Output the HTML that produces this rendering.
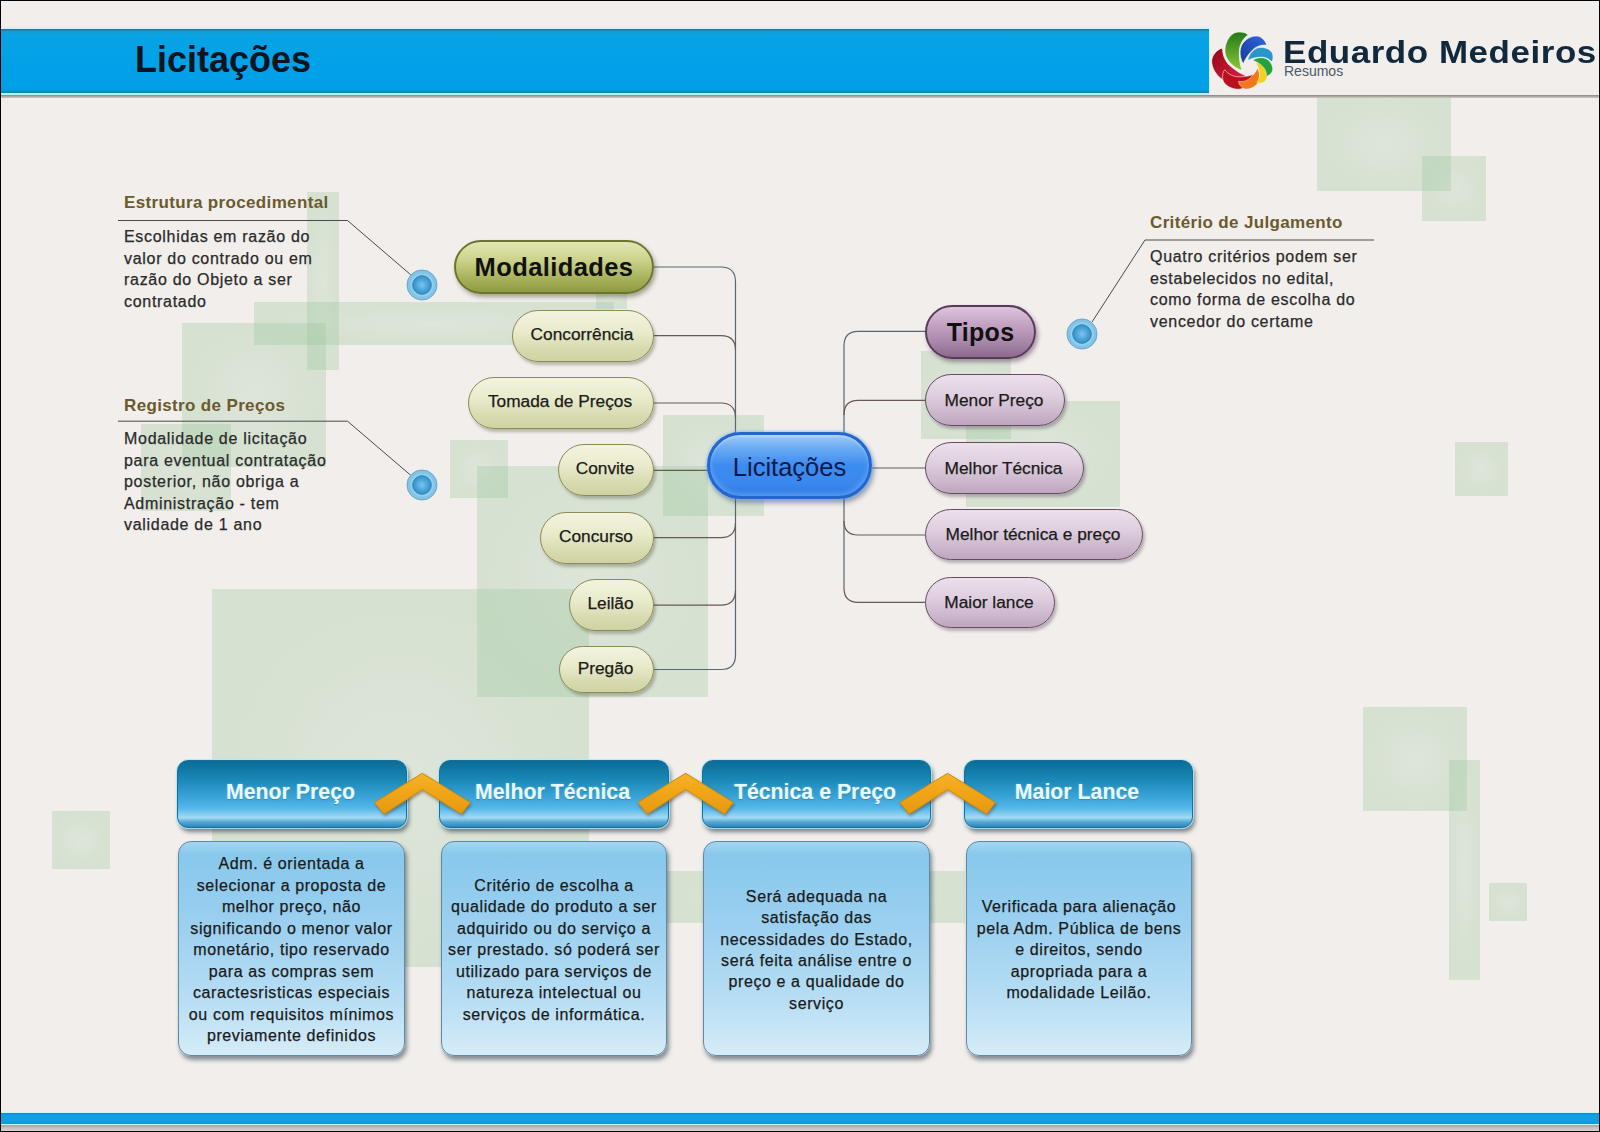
<!DOCTYPE html>
<html><head><meta charset="utf-8">
<style>
*{margin:0;padding:0;box-sizing:border-box}
html,body{width:1600px;height:1132px;overflow:hidden}
body{position:relative;background:#f1eeeb;font-family:"Liberation Sans",sans-serif;color:#222}
.a{position:absolute}
.r{position:absolute;background:radial-gradient(closest-side,rgba(150,195,150,.21),rgba(150,195,150,.3))}
.frame{position:absolute;left:0;top:0;width:1600px;height:1132px;border:1px solid #000;pointer-events:none}
/* pills */
.pill{position:absolute;border-radius:30px;display:flex;align-items:center;justify-content:center;white-space:nowrap}
.mg{padding-right:2px;padding-bottom:3px;background:linear-gradient(#f3f3df 0%,#e9ebcc 40%,#d8dbb0 75%,#cfd2a2 100%);border:1.5px solid #8c8b55;box-shadow:2px 3px 3px rgba(80,80,60,.35);font-size:17.3px;color:#1a1a1a}
.pg{padding-right:2px;background:linear-gradient(#ece0ec 0%,#dfcfdf 40%,#cdb8cd 75%,#bea6be 100%);border:1.5px solid #654b63;box-shadow:2px 3px 3px rgba(80,60,80,.35);font-size:17.3px;color:#1a1a1a}
.bullet{position:absolute;width:32px;height:32px}
.ann-t{position:absolute;font-weight:bold;font-size:17px;letter-spacing:.35px;color:#6b5a2e;white-space:nowrap}
.ann-b{position:absolute;font-size:16px;letter-spacing:.7px;line-height:21.5px;color:#2a2a2a;white-space:nowrap}
.hd{position:absolute;top:760px;height:68px;border-radius:11px;border:1px solid #1c6d98;
 background:linear-gradient(#0a6c96 0%,#1a88b6 28%,#3aa4d8 55%,#58b8ea 72%,#a4daf4 86%,#58aad6 92%,#2a86ba 100%);
 box-shadow:0 0 0 1px rgba(170,235,250,.8),2px 4px 4px rgba(30,45,60,.55);
 color:#e6fbff;font-weight:bold;font-size:21.3px;letter-spacing:0;display:flex;align-items:center;justify-content:center;padding-bottom:3px;padding-right:3px;text-shadow:0 0 2px rgba(180,240,255,.5),0 1px 1px rgba(0,40,80,.35)}
.bx{position:absolute;top:841px;height:215px;border-radius:13px;border:1.5px solid #5d8aa6;
 background:linear-gradient(#a4d6f2 0%,#88c8ec 6%,#9cd0f0 40%,#b8def4 75%,#d6ecf8 100%);
 box-shadow:2px 4px 4px rgba(30,45,60,.5);
 font-size:16px;letter-spacing:.6px;line-height:21.45px;color:#1a1a1a;text-align:center;display:flex;align-items:center;justify-content:center;padding-top:3px}
.bx,.ann-b,.mg,.pg{-webkit-text-stroke:0.25px currentColor}
</style></head>
<body>

<!-- background rectangles -->
<div class="r" style="left:307px;top:192px;width:32px;height:178px"></div>
<div class="r" style="left:254px;top:302px;width:360px;height:43px"></div>
<div class="r" style="left:596px;top:285px;width:31px;height:24px"></div>
<div class="r" style="left:182px;top:323px;width:144px;height:144px"></div>
<div class="r" style="left:141px;top:424px;width:90px;height:87px"></div>
<div class="r" style="left:450px;top:440px;width:58px;height:58px"></div>
<div class="r" style="left:477px;top:466px;width:231px;height:231px"></div>
<div class="r" style="left:663px;top:415px;width:101px;height:101px"></div>
<div class="r" style="left:212px;top:589px;width:377px;height:378px"></div>
<div class="r" style="left:52px;top:811px;width:58px;height:58px"></div>
<div class="r" style="left:667px;top:871px;width:298px;height:52px"></div>
<div class="r" style="left:921px;top:351px;width:90px;height:88px"></div>
<div class="r" style="left:966px;top:401px;width:154px;height:106px"></div>
<div class="r" style="left:1317px;top:96px;width:134px;height:95px"></div>
<div class="r" style="left:1422px;top:156px;width:64px;height:65px"></div>
<div class="r" style="left:1455px;top:442px;width:53px;height:54px"></div>
<div class="r" style="left:1363px;top:707px;width:104px;height:104px"></div>
<div class="r" style="left:1449px;top:760px;width:31px;height:220px"></div>
<div class="r" style="left:1489px;top:883px;width:38px;height:38px"></div>

<!-- header -->
<div class="a" style="left:0;top:27px;width:1210px;height:70px;background:#c8f4fc"></div>
<div class="a" style="left:0;top:95px;width:1600px;height:3px;background:linear-gradient(#8a8680,#cfccc8)"></div>
<div class="a" style="left:1px;top:28px;width:1208px;height:67px;background:linear-gradient(#c6f6ff 0,#c6f6ff 1px,#187aa2 1px,#187aa2 2px,#1a98c8 3px,#0aa3e4 6px,#00a1e8 60%,#00a0e8 62px,#1784b4 64px,#1784b4 65px);border-bottom:2px solid #b8eef8"></div>
<div class="a" style="left:135px;top:39px;font-weight:bold;font-size:36px;color:#0d1420;white-space:nowrap">Licitações</div>

<!-- logo -->
<svg class="a" style="left:0;top:0" width="1600" height="110" viewBox="0 0 1600 110">
<defs>
<path id="pt" d="M-9.3 4.6 C-20 1 -27 -8 -26.5 -16 C-26 -26 -20 -33 -14.6 -33.8 C-9 -34.5 -5 -33 -3.3 -31.1 C-8 -28 -11.5 -22 -12 -16 C-12.5 -8 -11.5 -2 -9.3 4.6 Z"/>
<linearGradient id="gG" x1="0" y1="1" x2="0" y2="0"><stop offset="0" stop-color="#8cc83a"/><stop offset="1" stop-color="#237a12"/></linearGradient>
<linearGradient id="gB" x1="0" y1="1" x2="0" y2="0"><stop offset="0" stop-color="#1a3c9c"/><stop offset="1" stop-color="#2a62d4"/></linearGradient>
<linearGradient id="gR" x1="0" y1="1" x2="0" y2="0"><stop offset="0" stop-color="#e0204a"/><stop offset="1" stop-color="#9c0a18"/></linearGradient>
</defs>
<g transform="translate(1251.4 66)" stroke="#fff" stroke-width="0.8" stroke-opacity=".8">
 <use href="#pt" fill="url(#gR)" transform="rotate(308) scale(1.08)"/>
 <use href="#pt" fill="#b8101c" transform="rotate(268) scale(0.86)"/>
 <use href="#pt" fill="#f07818" transform="rotate(226) scale(0.64)"/>
 <use href="#pt" fill="#f2d020" transform="rotate(168) scale(0.55)"/>
 <use href="#pt" fill="#27a040" transform="rotate(130) scale(0.58)"/>
 <use href="#pt" fill="#2a95c8" transform="rotate(84) scale(0.66)"/>
 <use href="#pt" fill="url(#gB)" transform="rotate(42) scale(0.82)"/>
 <use href="#pt" fill="url(#gG)" transform="rotate(0) scale(1)"/>
</g>
</svg>
<div class="a" style="left:1283px;top:33.5px;font-weight:bold;font-size:32px;color:#12283c;white-space:nowrap;letter-spacing:0.5px;transform:scaleX(1.093);transform-origin:0 0">Eduardo Medeiros</div>
<div class="a" style="left:1284px;top:63px;font-size:14px;color:#4a5a6a;white-space:nowrap">Resumos</div>

<!-- bottom bar -->
<div class="a" style="left:0;top:1112px;width:1600px;height:20px;background:linear-gradient(#c8f6ff 0,#c8f6ff 1px,#1a88bc 1px,#1496d2 2px,#0ea2e4 4px,#0ea0e2 10px,#1890c4 12px,#c8f6ff 12px,#c8f6ff 13px,#a8a49e 13px,#c4c0bb 16px,#d8d5d1 19px)"></div>

<!-- connectors -->
<svg class="a" style="left:0;top:0" width="1600" height="1132" viewBox="0 0 1600 1132">
 <defs><radialGradient id="bg1" cx="50%" cy="50%" r="50%"><stop offset="0" stop-color="#7cc4f2"/><stop offset=".6" stop-color="#4ba4da"/><stop offset="1" stop-color="#3590c6"/></radialGradient></defs>
 <g fill="none" stroke-width="1.2">
  <path d="M654 267 H721 Q735.5 267 735.5 282 V655 Q735.5 669.5 721 669.5 H654" stroke="#56686f"/>
  <path d="M654 335.6 H721 Q735.5 335.6 735.5 350" stroke="#685a52"/>
  <path d="M654 403 H721 Q735.5 403 735.5 418" stroke="#685a52"/>
  <path d="M654 470.4 H735.5" stroke="#685a52"/>
  <path d="M654 537.6 H721 Q735.5 537.6 735.5 523" stroke="#685a52"/>
  <path d="M654 605.2 H721 Q735.5 605.2 735.5 590" stroke="#685a52"/>
  <path d="M925 331.4 H858 Q844 331.4 844 346 V588" stroke="#56686f"/>
  <path d="M844 588 Q844 602.3 858 602.3 H925" stroke="#685a52"/>
  <path d="M925 400.4 H858 Q844 400.4 844 415" stroke="#685a52"/>
  <path d="M872 468 H925" stroke="#685a52"/>
  <path d="M925 535 H858 Q844 535 844 521" stroke="#685a52"/>
 </g>
 <g fill="none" stroke="#4a4a4a" stroke-width="1">
  <path d="M118 220.5 H347.5 L411 275"/>
  <path d="M118 421.2 H347.5 L411 475.5"/>
  <path d="M1374 240 H1145 L1092 322"/>
 </g>
</svg>

<!-- annotations -->
<div class="ann-t" style="left:124px;top:193px">Estrutura procedimental</div>
<div class="ann-b" style="left:124px;top:226px">Escolhidas em razão do<br>valor do contrado ou em<br>razão do Objeto a ser<br>contratado</div>
<div class="bullet" style="left:406px;top:269px"><svg width="32" height="32" viewBox="0 0 32 32"><circle cx="16" cy="16" r="15.6" fill="#d6ecf6" opacity=".6"/><circle cx="16" cy="16" r="15" fill="#86c2e4" stroke="#6aa8d0" stroke-width="1"/><circle cx="16" cy="16" r="11.5" fill="#92d0f0"/><circle cx="16" cy="16" r="9.3" fill="url(#bg1)" stroke="#2d86ba" stroke-width="1"/></svg></div>

<div class="ann-t" style="left:124px;top:396px">Registro de Preços</div>
<div class="ann-b" style="left:124px;top:428px">Modalidade de licitação<br>para eventual contratação<br>posterior, não obriga a<br>Administração - tem<br>validade de 1 ano</div>
<div class="bullet" style="left:406px;top:469px"><svg width="32" height="32" viewBox="0 0 32 32"><circle cx="16" cy="16" r="15.6" fill="#d6ecf6" opacity=".6"/><circle cx="16" cy="16" r="15" fill="#86c2e4" stroke="#6aa8d0" stroke-width="1"/><circle cx="16" cy="16" r="11.5" fill="#92d0f0"/><circle cx="16" cy="16" r="9.3" fill="url(#bg1)" stroke="#2d86ba" stroke-width="1"/></svg></div>

<div class="ann-t" style="left:1150px;top:213px">Critério de Julgamento</div>
<div class="ann-b" style="left:1150px;top:246px">Quatro critérios podem ser<br>estabelecidos no edital,<br>como forma de escolha do<br>vencedor do certame</div>
<div class="bullet" style="left:1066px;top:318px"><svg width="32" height="32" viewBox="0 0 32 32"><circle cx="16" cy="16" r="15.6" fill="#d6ecf6" opacity=".6"/><circle cx="16" cy="16" r="15" fill="#86c2e4" stroke="#6aa8d0" stroke-width="1"/><circle cx="16" cy="16" r="11.5" fill="#92d0f0"/><circle cx="16" cy="16" r="9.3" fill="url(#bg1)" stroke="#2d86ba" stroke-width="1"/></svg></div>

<!-- nodes left -->
<div class="pill" style="left:454px;top:240px;width:200px;height:54px;border-radius:27px;background:linear-gradient(#e2e6b4 0%,#cdd38c 35%,#aab45e 70%,#8e9a40 100%);border:2px solid #6c7430;box-shadow:2px 3px 4px rgba(70,70,40,.45);font-weight:bold;font-size:25.5px;color:#111;letter-spacing:.4px">Modalidades</div>
<div class="pill mg" style="left:512px;top:310px;width:142px;height:52px">Concorrência</div>
<div class="pill mg" style="left:468px;top:377px;width:186px;height:52px">Tomada de Preços</div>
<div class="pill mg" style="left:558px;top:444px;width:96px;height:52px">Convite</div>
<div class="pill mg" style="left:540px;top:512px;width:114px;height:52px">Concurso</div>
<div class="pill mg" style="left:569px;top:579px;width:85px;height:52px">Leilão</div>
<div class="pill mg" style="left:559px;top:646px;width:95px;height:47px">Pregão</div>

<!-- central -->
<div class="pill" style="left:707px;top:432px;width:165px;height:67px;border-radius:34px;background:linear-gradient(#9ccaf8 0%,#6aaaf4 22%,#3c8cf0 50%,#3a88ee 80%,#2c74e0 100%);border:3px solid #2466d0;box-shadow:inset 0 -3px 5px rgba(140,200,255,.45),inset 0 2px 2px rgba(255,255,255,.25),0 0 3px 1px rgba(120,180,240,.6),2px 4px 5px rgba(40,60,100,.45);font-size:25.5px;color:#0c1a4a;padding-top:3px">Licitações</div>

<!-- nodes right -->
<div class="pill" style="left:925px;top:305px;width:111px;height:54px;border-radius:27px;background:linear-gradient(#ddc4dd 0%,#c4a2c4 35%,#a888aa 70%,#8c6a8e 100%);border:2px solid #5a3a5a;box-shadow:2px 3px 4px rgba(70,40,70,.45);font-weight:bold;font-size:25px;color:#111;letter-spacing:.3px">Tipos</div>
<div class="pill pg" style="left:925px;top:374px;width:140px;height:52px">Menor Preço</div>
<div class="pill pg" style="left:925px;top:442px;width:159px;height:52px">Melhor Técnica</div>
<div class="pill pg" style="left:925px;top:509px;width:218px;height:51px">Melhor técnica e preço</div>
<div class="pill pg" style="left:925px;top:577px;width:130px;height:51px">Maior lance</div>

<!-- bottom headers -->
<div class="hd" style="left:177px;width:230px">Menor Preço</div>
<div class="hd" style="left:439px;width:230px">Melhor Técnica</div>
<div class="hd" style="left:702px;width:229px">Técnica e Preço</div>
<div class="hd" style="left:964px;width:229px">Maior Lance</div>

<!-- chevrons -->
<svg class="a" style="left:0;top:0" width="1600" height="1132" viewBox="0 0 1600 1132">
 <defs><linearGradient id="chg" gradientUnits="objectBoundingBox" x1="0" y1="0" x2="0" y2="1"><stop offset="0" stop-color="#f6b22a"/><stop offset=".5" stop-color="#f0a414"/><stop offset="1" stop-color="#e69a10"/></linearGradient><filter id="cs" x="-20%" y="-20%" width="140%" height="160%"><feDropShadow dx="1" dy="2" stdDeviation="1.5" flood-color="#3a3020" flood-opacity=".45"/></filter></defs>
 <g fill="url(#chg)" stroke="#c98a10" stroke-width="1" stroke-linejoin="round" filter="url(#cs)">
  <path d="M422.3 773.3 L470.3 802.5 L461.3 814 L422.3 789.4 L384 814 L374.6 802.5 Z"/>
  <path d="M685.5 773.3 L733.5 802.5 L724.5 814 L685.5 789.4 L647.2 814 L637.8 802.5 Z"/>
  <path d="M947.5 773.3 L995.5 802.5 L986.5 814 L947.5 789.4 L909.2 814 L899.8 802.5 Z"/>
 </g>
</svg>

<!-- bottom boxes -->
<div class="bx" style="left:178px;width:227px">Adm. é orientada a<br>selecionar a proposta de<br>melhor preço, não<br>significando o menor valor<br>monetário, tipo reservado<br>para as compras sem<br>caractesristicas especiais<br>ou com requisitos mínimos<br>previamente definidos</div>
<div class="bx" style="left:441px;width:226px">Critério de escolha a<br>qualidade do produto a ser<br>adquirido ou do serviço a<br>ser prestado. só poderá ser<br>utilizado para serviços de<br>natureza intelectual ou<br>serviços de informática.</div>
<div class="bx" style="left:703px;width:227px">Será adequada na<br>satisfação das<br>necessidades do Estado,<br>será feita análise entre o<br>preço e a qualidade do<br>serviço</div>
<div class="bx" style="left:966px;width:226px">Verificada para alienação<br>pela Adm. Pública de bens<br>e direitos, sendo<br>apropriada para a<br>modalidade Leilão.</div>

<div class="frame"></div>
</body></html>
